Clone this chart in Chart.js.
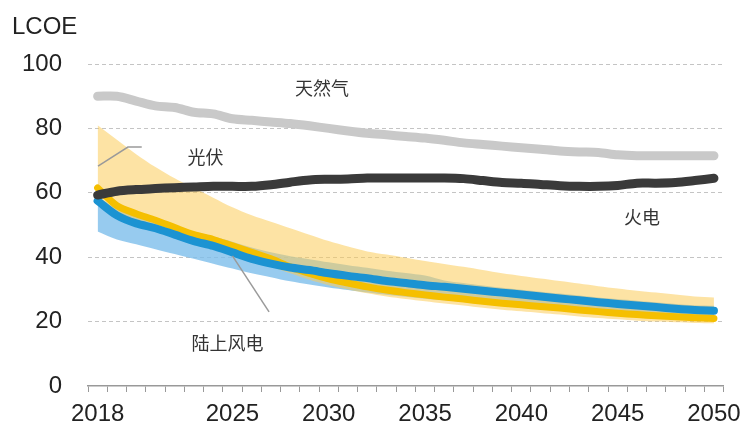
<!DOCTYPE html>
<html>
<head>
<meta charset="utf-8">
<script src="https://cdn.jsdelivr.net/npm/chart.js@4"></script>
<style>
	body { margin: 0; background: #fff; }
	#wrap { width: 749px; height: 428px; }
</style>
</head>
<body>
<div id="wrap"><canvas id="myChart" width="749" height="428"></canvas></div>
<script>
// years on the x axis (2018 - 2050)
const years = [2018, 2019, 2020, 2021, 2022, 2023, 2024, 2025, 2026, 2027, 2028,
	2029, 2030, 2031, 2032, 2033, 2034, 2035, 2036, 2037, 2038, 2039, 2040,
	2041, 2042, 2043, 2044, 2045, 2046, 2047, 2048, 2049, 2050];
const shownYears = [2018, 2025, 2030, 2035, 2040, 2045, 2050];
const yTicks = [0, 20, 40, 60, 80, 100];

// 天然气
const gas = [90, 90, 88.5, 87, 86.5, 85, 84.5, 83, 82.5, 82, 81.5,
	80.8, 80, 79.2, 78.5, 78, 77.5, 77, 76.3, 75.5, 75, 74.5, 74,
	73.5, 73, 72.7, 72.5, 71.8, 71.5, 71.5, 71.5, 71.5, 71.5];
// 火电
const coal = [59.3, 60.5, 61, 61.3, 61.6, 61.8, 62, 62, 62, 62.5, 63.3,
	64, 64.2, 64.3, 64.6, 64.6, 64.6, 64.6, 64.6, 64.4, 63.8, 63.2, 63,
	62.6, 62.2, 62, 62, 62.3, 63, 63, 63.2, 63.8, 64.5];
// 光伏 central + range
const solar = [61.5, 56, 53.5, 51.5, 49.2, 47, 45.5, 43.5, 41.5, 39.5, 37,
	35, 33.3, 32, 30.8, 29.8, 29, 28.3, 27.6, 27, 26.3, 25.7, 25.2,
	24.7, 24.2, 23.6, 23.1, 22.6, 22.2, 21.8, 21.5, 21.2, 21];
const solarHigh = [81, 76.5, 72, 68, 64.5, 61.5, 58.5, 55.5, 53, 51, 49,
	47, 45, 43.3, 41.8, 40.8, 39.8, 38.8, 37.9, 37, 36, 35, 34.2,
	33.4, 32.6, 31.8, 31, 30.3, 29.6, 29, 28.4, 27.8, 27.5];
const solarLow = [57, 52.5, 50, 48.5, 46.5, 44.5, 43, 41, 39, 37, 35,
	33, 31.3, 30, 28.8, 27.8, 27, 26.3, 25.6, 25, 24.3, 23.7, 23.2,
	22.7, 22.2, 21.6, 21.1, 20.7, 20.3, 20, 19.8, 19.6, 19.5];
// 陆上风电 central + range
const wind = [57.5, 53, 50.5, 49, 47, 45, 43.5, 41.5, 39.5, 38, 36.8,
	36, 35, 34.2, 33.5, 32.6, 32, 31.3, 30.8, 30.2, 29.6, 29, 28.4,
	27.8, 27.2, 26.6, 26, 25.5, 25, 24.5, 24, 23.6, 23.4];
const windHigh = [59, 55, 53, 51.5, 49.5, 47.8, 46.5, 44.8, 43, 41.5, 40.3,
	39.4, 38.4, 37.5, 36.7, 35.8, 35.1, 34.3, 32.8, 32, 31.2, 30.5, 29.9,
	29.3, 28.7, 28.1, 27.5, 27, 26.5, 26, 25.5, 25.1, 24.9];
const windLow = [48, 45.5, 44, 42.5, 41, 39.5, 38, 36.5, 35, 33.8, 32.5,
	31.5, 30.6, 29.8, 29, 28.3, 27.7, 27.1, 26.6, 26.1, 25.6, 25.1, 24.6,
	24.1, 23.6, 23.1, 22.7, 22.3, 21.9, 21.5, 21.2, 20.9, 20.7];

// series labels: [text, x (year index), y (value)]
const seriesLabels = [
	['天然气', 11.65, 92.5],
	['光伏', 5.6, 71.1],
	['火电', 28.26, 52.5],
	['陆上风电', 6.74, 13.4]
];
// leader lines as [x index, value] pairs
const leaders = [
	[[0.02, 68.3], [1.57, 74.2], [2.29, 74.2]],
	[[7.0, 40.4], [8.9, 23.0]]
];

const cjkFont = '"Noto Sans CJK SC", sans-serif';
const latinFont = '"Liberation Sans", Arial, sans-serif';

const labelPlugin = {
	id: 'labels',
	afterDatasetsDraw(chart) {
		const { ctx, scales: { x, y } } = chart;
		ctx.save();
		ctx.strokeStyle = '#9a9a9a';
		ctx.lineWidth = 1.5;
		leaders.forEach((pts) => {
			ctx.beginPath();
			pts.forEach((p, i) => {
				const px = x.getPixelForValue(p[0]);
				const py = y.getPixelForValue(p[1]);
				if (i === 0) ctx.moveTo(px, py); else ctx.lineTo(px, py);
			});
			ctx.stroke();
		});
		ctx.fillStyle = '#333';
		ctx.font = '18px ' + cjkFont;
		ctx.textAlign = 'center';
		ctx.textBaseline = 'middle';
		seriesLabels.forEach((l) => {
			ctx.fillText(l[0], x.getPixelForValue(l[1]), y.getPixelForValue(l[2]));
		});
		// axis unit
		ctx.fillStyle = '#222';
		ctx.font = '24px ' + latinFont;
		ctx.textAlign = 'left';
		ctx.fillText('LCOE', 12, 27);
		ctx.restore();
	}
};

const line = (data, color, width, order) => ({
	data: data,
	borderColor: color,
	borderWidth: width,
	borderCapStyle: 'round',
	borderJoinStyle: 'round',
	pointRadius: 0,
	tension: 0.3,
	fill: false,
	order: order
});

const band = (data, fillColor, fillTo, order) => ({
	data: data,
	borderWidth: 0,
	borderColor: 'rgba(0,0,0,0)',
	backgroundColor: fillColor,
	pointRadius: 0,
	tension: 0.3,
	fill: fillTo,
	order: order
});

new Chart(document.getElementById('myChart').getContext('2d'), {
	type: 'line',
	data: {
		labels: years,
		datasets: [
			band(windLow, 'rgba(0,0,0,0)', false, 10),
			band(windHigh, 'rgba(125,190,235,0.8)', '-1', 9),
			band(solarLow, 'rgba(0,0,0,0)', false, 8),
			band(solarHigh, 'rgba(252,204,90,0.55)', '-1', 7),
			line(solar, '#F5BF00', 7, 4),
			line(wind, '#1B93D2', 8, 3),
			line(coal, '#3A3A3A', 9, 2),
			line(gas, '#C9C9C9', 9, 1)
		]
	},
	options: {
		responsive: false,
		animation: false,
		layout: { padding: { top: 64, right: 23, left: 0, bottom: 0 } },
		plugins: { legend: { display: false }, tooltip: { enabled: false } },
		scales: {
			x: {
				type: 'category',
				offset: true,
				afterFit: (scale) => { scale.height = 42; },
				grid: {
					offset: true,
					drawOnChartArea: false,
					drawTicks: true,
					tickLength: 6,
					color: '#999'
				},
				border: { display: true, color: '#999', width: 1.5 },
				ticks: {
					autoSkip: false,
					maxRotation: 0,
					padding: 8,
					color: '#222',
					font: { family: latinFont, size: 24 },
					callback: function (val, i) {
						const yr = years[i];
						return shownYears.includes(yr) ? String(yr) : '';
					}
				}
			},
			y: {
				min: 0,
				max: 100,
				afterFit: (scale) => { scale.width = 88; },
				afterBuildTicks: (scale) => { scale.ticks = yTicks.map((v) => ({ value: v })); },
				grid: {
					drawTicks: false,
					lineWidth: 1,
					color: (c) => (c.tick && c.tick.value === 0 ? 'rgba(0,0,0,0)' : '#c4c4c4')
				},
				border: { display: false, dash: [4, 3] },
				ticks: {
					padding: 26,
					color: '#222',
					font: { family: latinFont, size: 24 }
				}
			}
		}
	},
	plugins: [labelPlugin]
});
</script>
</body>
</html>
